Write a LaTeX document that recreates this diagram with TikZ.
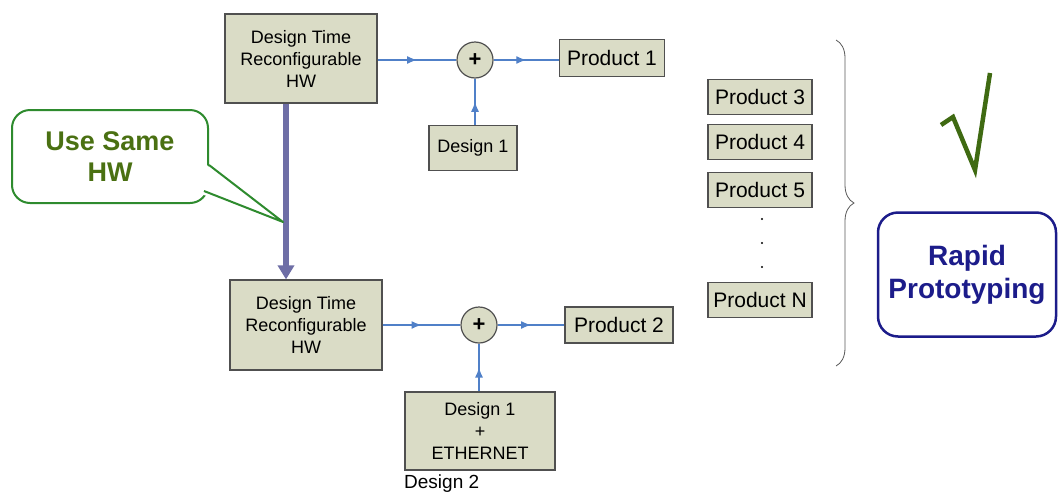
\documentclass[tikz,border=0pt]{standalone}
\usepackage{fontspec}
\setmainfont{Liberation Sans}
\usepackage{tikz}
\usetikzlibrary{positioning,arrows.meta,calc,decorations.markings,decorations.pathreplacing}

\definecolor{boxfill}{RGB}{218,220,198}
\definecolor{boxline}{RGB}{80,80,80}
\definecolor{flowblue}{RGB}{80,128,200}
\definecolor{hwpurple}{RGB}{110,110,166}
\definecolor{calloutgreen}{RGB}{46,139,46}
\definecolor{textgreen}{RGB}{74,112,18}
\definecolor{checkgreen}{RGB}{63,106,18}
\definecolor{navy}{RGB}{28,28,138}

\begin{document}
\begin{tikzpicture}[x=1pt, y=-1pt,
  block/.style={rectangle, draw=boxline, fill=boxfill, line width=1.2pt, align=center, inner sep=2pt, font=\fontsize{18}{22}\selectfont},
  prod/.style={block, minimum width=104pt, minimum height=35pt, font=\fontsize{21}{24}\selectfont},
  sum/.style={circle, draw=boxline, fill=boxfill, line width=1.2pt, minimum size=36pt, inner sep=0pt, font=\fontsize{22}{22}\selectfont\bfseries},
  flow/.style={draw=flowblue, line width=1.3pt, postaction={decorate},
    decoration={markings, mark=at position 0.5 with {\arrow[flowblue]{Latex[length=10pt,width=8pt]}}}},
  hwarrow/.style={draw=hwpurple, line width=6pt, -{Triangle[length=14pt,width=16pt]}}
]
  \useasboundingbox (0,0) rectangle (1059,493);

  % first design
  \node[block, minimum width=152pt, minimum height=89pt] (hwtop) at (301,58.5) {Design Time\\Reconfigurable\\HW};
  \node[sum] (sumtop) at (475,60) {+};
  \node[prod, minimum width=105pt, minimum height=37pt] (prod1) at (612,58) {Product 1};
  \node[block, minimum width=88pt, minimum height=45pt] (des1) at (473,148) {Design 1};

  \draw[flow] (hwtop.east |- sumtop) -- (sumtop);
  \draw[flow] (sumtop) -- (prod1.west |- sumtop);
  \draw[flow] (des1.north -| sumtop) -- (sumtop);

  % second design
  \node[block, minimum width=152pt, minimum height=90pt] (hwbot) at (306,325) {Design Time\\Reconfigurable\\HW};
  \node[sum] (sumbot) at (479,325) {+};
  \node[prod, minimum width=108pt, minimum height=36pt] (prod2) at (619,325) {Product 2};
  \node[block, minimum width=150pt, minimum height=78pt] (des2) at (480,431) {Design 1\\+\\ETHERNET};
  \node[anchor=west, inner sep=0pt, font=\fontsize{19}{22}\selectfont] (des2lbl) at (404,484) {Design 2};

  \draw[flow] (hwbot) -- (sumbot);
  \draw[flow] (sumbot) -- (prod2);
  \draw[flow] (des2.north -| sumbot) -- (sumbot);

  \draw[hwarrow] ([xshift=-15pt]hwtop.south) -- ([xshift=-20pt]hwbot.north);

  % callout
  \node[draw=calloutgreen, fill=white, line width=2pt, rounded corners=18pt, minimum width=196pt, minimum height=93pt,
    align=center, font=\fontsize{27}{31}\selectfont\bfseries, text=textgreen] (samehw) at (110,156.5) {Use Same\\HW};
  \coordinate (hwtip) at (283,222);
  \fill[white] ($(samehw.east)+(-3,8)$) -- (hwtip) -- ($(samehw.south east)+(-8,-10)$) -- ($(samehw.east)+(-15,20)$) -- cycle;
  \draw[calloutgreen, line width=2pt, line join=round] ($(samehw.east)+(0,8.5)$) -- (hwtip) -- ($(samehw.south east)+(-5,-13)$);

  % other products
  \node[prod] (prod3) at (760,97) {Product 3};
  \node[prod] (prod4) at (760,142) {Product 4};
  \node[prod] (prod5) at (760,190) {Product 5};
  \node[prod] (prodn) at (760,300) {Product N};
  \foreach \y in {219,243,267}
    \fill (762,\y) circle (1.1pt);

  \draw[gray!70!black, line width=0.8pt, decorate, decoration={brace, amplitude=18pt}] (836,40) -- (836,366);

  % result
  \draw[checkgreen, line width=4.5pt, line join=miter] (941,125) -- (953,117) -- (975,170) -- (990,73);
  \node[draw=navy, line width=2.5pt, rounded corners=20pt, minimum width=178pt, minimum height=124pt,
    align=center, font=\fontsize{28}{33}\selectfont\bfseries, text=navy] (rapid) at (967,274.5) {Rapid\\Prototyping};
\end{tikzpicture}
\end{document}
